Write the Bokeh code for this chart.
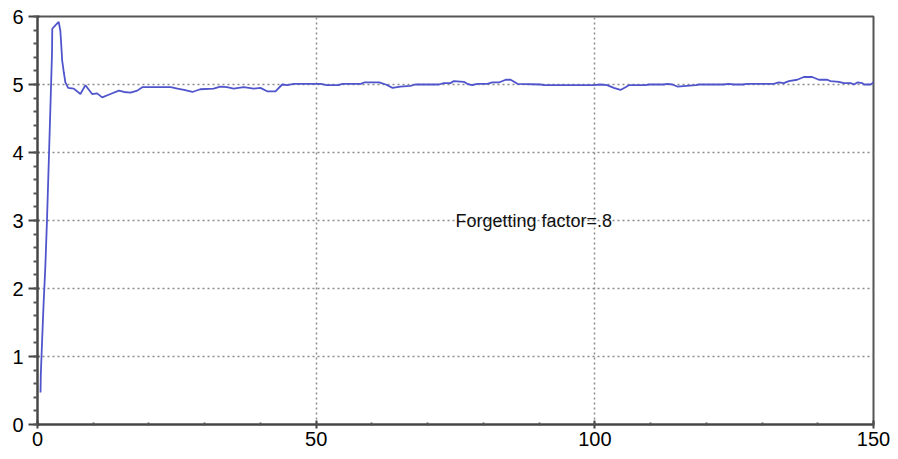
from bokeh.plotting import figure
from bokeh.models import Range1d, FixedTicker, Label
from bokeh.embed import file_html
from bokeh.resources import INLINE

# Estimate trajectory (forgetting factor = .8)
x_vals = [0.54, 0.6, 0.84, 1.1, 1.4, 1.7, 2.0, 2.3, 2.6, 2.65, 3.2, 3.8, 4.1, 4.25, 4.43,
          4.72, 5.0, 5.5, 6.5, 7.7, 8.6, 9.8, 10.7, 11.6, 13.1, 14.6, 15.5, 16.7, 17.9,
          18.8, 23.9, 25.1, 26.3, 27.8, 29.2, 31.6, 32.8, 34.0, 35.2, 37.0, 38.8, 40.0,
          41.2, 42.7, 43.9, 44.8, 46.0, 50.8, 51.9, 54.0, 54.7, 58.0, 58.6, 61.3, 62.5,
          63.7, 65.1, 66.9, 67.8, 72.0, 72.9, 74.1, 74.7, 76.5, 77.1, 78.0, 78.9, 80.7,
          81.6, 82.8, 84.0, 84.9, 86.1, 90.3, 90.9, 99.8, 101.0, 102.2, 103.4, 104.6,
          105.5, 106.1, 109.1, 109.7, 112.4, 113.0, 113.9, 114.8, 118.1, 118.7, 123.1,
          124.0, 124.9, 126.6, 127.3, 132.1, 133.0, 133.9, 134.8, 136.3, 137.5, 139.0,
          140.2, 141.7, 142.3, 143.8, 144.7, 145.9, 146.5, 147.1, 148.0, 148.3, 149.5, 150.0]
y_vals = [0.47, 0.75, 1.26, 1.79, 2.31, 3.0, 3.8, 4.62, 5.45, 5.82, 5.87, 5.92, 5.79, 5.6, 5.35,
          5.18, 5.03, 4.95, 4.94, 4.86, 4.99, 4.86, 4.87, 4.81, 4.86, 4.91, 4.89, 4.88, 4.91,
          4.96, 4.96, 4.94, 4.92, 4.89, 4.93, 4.94, 4.97, 4.96, 4.94, 4.96, 4.94, 4.95,
          4.90, 4.90, 5.0, 4.99, 5.01, 5.01, 4.99, 4.99, 5.01, 5.01, 5.03, 5.03, 5.0,
          4.95, 4.97, 4.98, 5.0, 5.0, 5.02, 5.02, 5.05, 5.04, 5.01, 4.99, 5.01, 5.01,
          5.03, 5.03, 5.07, 5.07, 5.01, 5.0, 4.99, 4.99, 5.0, 4.99, 4.95, 4.92,
          4.96, 4.99, 4.99, 5.0, 5.0, 5.01, 5.0, 4.97, 4.99, 5.0, 5.0,
          5.01, 5.0, 5.0, 5.01, 5.01, 5.03, 5.02, 5.05, 5.07, 5.11, 5.11,
          5.07, 5.07, 5.05, 5.04, 5.02, 5.02, 5.0, 5.03, 5.02, 5.0, 5.0, 5.03]

x_ticks = [0, 50, 100, 150]
y_ticks = [0, 1, 2, 3, 4, 5, 6]
annotation = "Forgetting factor=.8"

p = figure(width=898, height=459, output_backend="svg", toolbar_location=None,
           x_range=Range1d(0, 150), y_range=Range1d(0, 6),
           min_border_left=37, min_border_right=25, min_border_top=16, min_border_bottom=35)
p.background_fill_color = "white"
p.border_fill_color = "white"
p.outline_line_color = "#555555"
p.outline_line_width = 2

p.xaxis.ticker = FixedTicker(ticks=x_ticks, minor_ticks=list(range(0, 151, 10)))
p.yaxis.ticker = FixedTicker(ticks=y_ticks, minor_ticks=[i / 5 for i in range(31)])

for ax in (p.xaxis[0], p.yaxis[0]):
    ax.axis_line_color = "#444444"
    ax.axis_line_width = 2
    ax.major_tick_line_color = "#444444"
    ax.major_tick_line_width = 2
    ax.minor_tick_line_color = "#555555"
    ax.minor_tick_line_width = 2
    ax.major_label_text_font = "Liberation Sans"
    ax.major_label_text_font_size = "20px"
    ax.major_label_text_color = "black"

p.yaxis.major_tick_out = 9
p.yaxis.major_tick_in = 2
p.yaxis.minor_tick_out = 4
p.yaxis.minor_tick_in = 0
p.yaxis.major_label_standoff = 5

p.xaxis.major_tick_out = 4
p.xaxis.major_tick_in = 4
p.xaxis.minor_tick_out = 1
p.xaxis.minor_tick_in = 2
p.xaxis.major_label_standoff = 3

p.xgrid.ticker = FixedTicker(ticks=[50, 100])
p.ygrid.ticker = FixedTicker(ticks=[1, 2, 3, 4, 5])
for g in (p.xgrid[0], p.ygrid[0]):
    g.grid_line_color = "#8a8a8a"
    g.grid_line_width = 1.5
    g.grid_line_dash = "2 3"

p.line(x_vals, y_vals, line_color="#5055cc", line_width=1.8)

p.add_layout(Label(x=75, y=3, text=annotation, text_font="Liberation Sans",
                   text_font_size="18px", text_color="#111111",
                   text_baseline="middle", text_align="left"))

open("out.html", "w").write(file_html(p, INLINE))
